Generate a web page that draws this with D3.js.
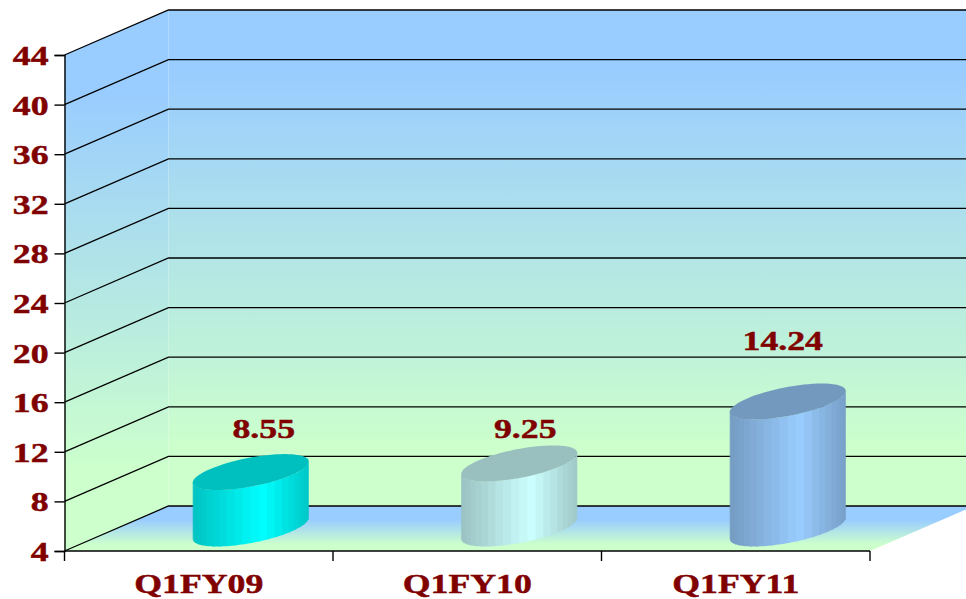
<!DOCTYPE html>
<html><head><meta charset="utf-8">
<script src="https://cdn.jsdelivr.net/npm/d3@7"></script>
<style>html,body{margin:0;padding:0;background:#fff;overflow:hidden}svg{display:block}
text{font-family:"Liberation Serif",serif;font-weight:bold;fill:#800000;font-size:27.5px;stroke:#800000;stroke-width:0.45px}</style>
</head><body><script>
const categories = ["Q1FY09","Q1FY10","Q1FY11"];
const values = [8.55,9.25,14.24];
const labels = ["8.55","9.25","14.24"];
const yTicks = [4,8,12,16,20,24,28,32,36,40,44];
const barColors = ["#00ffff","#ccffff","#99ccff"];

const W=966,H=599,stretch=1.3;
const depthX=104,depthY=45;
const x0=64.5,x1=870;
const y=d3.scaleLinear().domain([4,44]).range([551,55]);
const x=d3.scaleBand().domain(categories).range([x0,x1]);
const svg=d3.select("body").append("svg").attr("width",W).attr("height",H);
const defs=svg.append("defs");
function grad(id,y1,y2,stops){
  const g=defs.append("linearGradient").attr("id",id).attr("gradientUnits","userSpaceOnUse")
    .attr("x1",0).attr("x2",0).attr("y1",y1).attr("y2",y2);
  stops.forEach(s=>g.append("stop").attr("offset",s[0]).attr("stop-color",s[1]));
}
grad("wall",10,506,[[0,"#99ccff"],[0.12,"#99ccff"],[0.88,"#ccffcc"],[1,"#ccffcc"]]);
grad("side",30,526,[[0,"#99ccff"],[0.12,"#99ccff"],[0.88,"#ccffcc"],[1,"#ccffcc"]]);
grad("floor",506,551,[[0,"#99ccff"],[0.3,"#99ccff"],[0.85,"#ccffcc"],[1,"#ccffcc"]]);
const line=d3.line();
const yTop=y(44),yBot=y(4);
const right=x1+depthX;
svg.append("path").attr("fill","url(#side)")
  .attr("d",line([[x0,yTop],[x0+depthX,yTop-depthY],[x0+depthX,yBot-depthY],[x0,yBot]])+"Z");
svg.append("path").attr("fill","url(#wall)")
  .attr("d",line([[x0+depthX,yTop-depthY],[right,yTop-depthY],[right,yBot-depthY],[x0+depthX,yBot-depthY]])+"Z");
svg.append("path").attr("fill","url(#floor)")
  .attr("d",line([[x0,yBot],[x0+depthX,yBot-depthY],[right,yBot-depthY],[x1,yBot]])+"Z");
// gridlines
svg.append("g").selectAll("path").data(yTicks).join("path")
  .attr("fill","none").attr("stroke","#000").attr("stroke-width",1.3)
  .attr("d",d=>line([[x0,y(d)],[x0+depthX,y(d)-depthY],[right,y(d)-depthY]]));
// axes
const gy=svg.append("g").attr("transform",`translate(${x0},0)`)
  .call(d3.axisLeft(y).tickValues(yTicks).tickSize(10).tickPadding(0).tickFormat(d3.format("d")));
gy.selectAll("path,line").attr("stroke","#000").attr("stroke-width",1.4);
gy.selectAll("text").attr("x",0).attr("dy",0).attr("text-anchor","end").attr("y",9.5)
  .attr("fill",null)
  .attr("transform",`translate(-16,0) scale(${stretch},1)`);
gy.attr("font-size",null).attr("font-family",null);
const gx=svg.append("g").attr("transform",`translate(0,${yBot})`)
  .call(d3.axisBottom(x).tickSize(0).tickFormat(""));
gx.selectAll(".tick").remove();
gx.select("path").attr("stroke","#000").attr("stroke-width",1.4).attr("d",`M${x0},0H${x1}`);
svg.append("g").selectAll("line").data([0,1,2,3]).join("line")
  .attr("x1",i=>x0+i*x.step()).attr("x2",i=>x0+i*x.step())
  .attr("y1",yBot).attr("y2",yBot+10).attr("stroke","#000").attr("stroke-width",1.4);
svg.append("g").selectAll("text").data(categories).join("text")
  .attr("text-anchor","middle")
  .attr("transform",d=>`translate(${x(d)+x.bandwidth()/2},593) scale(${stretch},1)`)
  .text(d=>d);
// cylinders
const rx=47,dx=34,dy=18,phi=Math.atan2(dx,rx),nStrips=22,overlap=0.012;
const shade=d3.scaleLinear().domain([0,0.6,1]).range([0.76,1,0.78]);
const P=(cx,cy,t)=>[cx+rx*Math.cos(t)+dx*Math.sin(t),cy-dy*Math.sin(t)];
const dark=(c,k)=>{const r=d3.rgb(c);return d3.rgb(r.r*k,r.g*k,r.b*k).formatHex();};
categories.forEach((c,i)=>{
  const cx=x(c)+x.bandwidth()/2+depthX/2, base=yBot-depthY/2, top=y(values[i])-depthY/2;
  const g=svg.append("g");
  const R=Math.hypot(rx,dx);
  d3.range(nStrips).forEach(k=>{
    const a=phi+Math.PI+k/nStrips*Math.PI;
    const b=phi+Math.PI+Math.min(nStrips,k+1+overlap*nStrips)/nStrips*Math.PI;
    const pa=P(cx,base,a),pb=P(cx,base,b),qa=P(cx,top,a),qb=P(cx,top,b);
    const mid=P(cx,base,a+Math.PI/nStrips/2);
    const u=(mid[0]-(cx-R))/(2*R);
    g.append("path").attr("d",line([qa,qb,pb,pa])+"Z")
      .attr("fill",dark(barColors[i],shade(u)));
  });
  g.append("path").attr("fill",dark(barColors[i],0.75))
    .attr("d",line(d3.range(73).map(k=>P(cx,top,k/72*2*Math.PI)))+"Z");
});
// value labels
const nudgeX=[13,6,-5], nudgeY=[-34,-25,-52];
svg.append("g").selectAll("text").data(labels).join("text")
  .attr("text-anchor","middle")
  .attr("transform",(d,i)=>`translate(${x(categories[i])+x.bandwidth()/2+depthX/2+nudgeX[i]},${y(values[i])-depthY/2+nudgeY[i]}) scale(${stretch},1)`)
  .text(d=>d);
</script></body></html>
